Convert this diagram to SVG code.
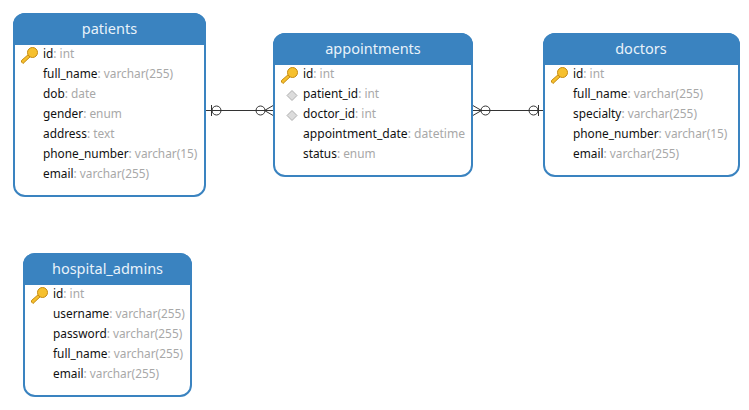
<svg xmlns="http://www.w3.org/2000/svg" width="749" height="410" viewBox="0 0 749 410">
<style>
text{font-family:"Noto Sans","Open Sans",sans-serif}
.t{font-size:14.5px;fill:#e8f2fa;text-anchor:middle}
.f{font-size:11.85px;fill:#111}
.w{font-size:12.1px}
.y{fill:#a8a8a8}
.b{fill:#fff;stroke:#3a83c0;stroke-width:2}
.h{fill:#3a83c0}
.c{fill:none;stroke:#333;stroke-width:1}
.k{fill:#f6c02e;stroke:#c58a10;stroke-width:1}
.d{fill:#dcdcdc;stroke:#b0b0b0;stroke-width:1}
</style>
<defs>
<g id="key"><path class="k" d="M0.500 -1.500 L-7.500 5.500 L-7.500 7 L-6 8.500 L2.500 0.500 Z"/><circle cx="3.500" cy="-2.500" r="5" class="k"/></g>
<path id="dia" class="d" d="M0 -5 L5 0 L0 5 L-5 0 Z"/>
</defs>
<g id="connectors">
<g id="c1"><path class="c" d="M206 110.500H274M211.500 105V116M264.500 110.500L274 105M264.500 110.500L274 116"/><circle class="c" cx="216.500" cy="110.500" r="4.500"/><circle class="c" cx="260.500" cy="110.500" r="4.500"/></g>
<g id="c2"><path class="c" d="M472 110.500H544M538.500 105V116M481.500 110.500L472 105M481.500 110.500L472 116"/><circle class="c" cx="485.500" cy="110.500" r="4.500"/><circle class="c" cx="533.500" cy="110.500" r="4.500"/></g>
</g>
<g id="patients">
<rect class="b" x="14" y="14" width="191" height="182" rx="11"/>
<path class="h" d="M13 45V25A12 12 0 0 1 25 13H194A12 12 0 0 1 206 25V45Z"/>
<text class="t" x="109.500" y="34">patients</text>
<use href="#key" x="29" y="55"/>
<text class="f" x="43" y="58">id<tspan class="y">: int</tspan></text>
<text class="f" x="43" y="78">full_name<tspan class="y">: varchar(255)</tspan></text>
<text class="f" x="43" y="98">dob<tspan class="y">: date</tspan></text>
<text class="f" x="43" y="118">gender<tspan class="y">: enum</tspan></text>
<text class="f" x="43" y="138">address<tspan class="y">: text</tspan></text>
<text class="f" x="43" y="158">phone_number<tspan class="y">: varchar(15)</tspan></text>
<text class="f" x="43" y="178">email<tspan class="y">: varchar(255)</tspan></text>
</g>
<g id="appointments">
<rect class="b" x="274" y="34" width="198" height="142" rx="11"/>
<path class="h" d="M273 65V45A12 12 0 0 1 285 33H461A12 12 0 0 1 473 45V65Z"/>
<text class="t" x="373" y="54">appointments</text>
<use href="#key" x="289" y="75"/>
<use href="#dia" x="292" y="95.500"/>
<use href="#dia" x="292" y="115.500"/>
<text class="f" x="303" y="78">id<tspan class="y">: int</tspan></text>
<text class="f" x="303" y="98">patient_id<tspan class="y">: int</tspan></text>
<text class="f" x="303" y="118">doctor_id<tspan class="y">: int</tspan></text>
<text class="f w" x="303" y="138">appointment_date<tspan class="y">: datetime</tspan></text>
<text class="f" x="303" y="158">status<tspan class="y">: enum</tspan></text>
</g>
<g id="doctors">
<rect class="b" x="544" y="34" width="195" height="142" rx="11"/>
<path class="h" d="M543 65V45A12 12 0 0 1 555 33H728A12 12 0 0 1 740 45V65Z"/>
<text class="t" x="641" y="54">doctors</text>
<use href="#key" x="559" y="75"/>
<text class="f" x="573" y="78">id<tspan class="y">: int</tspan></text>
<text class="f" x="573" y="98">full_name<tspan class="y">: varchar(255)</tspan></text>
<text class="f" x="573" y="118">specialty<tspan class="y">: varchar(255)</tspan></text>
<text class="f" x="573" y="138">phone_number<tspan class="y">: varchar(15)</tspan></text>
<text class="f" x="573" y="158">email<tspan class="y">: varchar(255)</tspan></text>
</g>
<g id="hospital_admins">
<rect class="b" x="24" y="254" width="167" height="142" rx="11"/>
<path class="h" d="M23 285V265A12 12 0 0 1 35 253H180A12 12 0 0 1 192 265V285Z"/>
<text class="t" x="107.500" y="274">hospital_admins</text>
<use href="#key" x="39" y="295"/>
<text class="f" x="53" y="298">id<tspan class="y">: int</tspan></text>
<text class="f" x="53" y="318">username<tspan class="y">: varchar(255)</tspan></text>
<text class="f" x="53" y="338">password<tspan class="y">: varchar(255)</tspan></text>
<text class="f" x="53" y="358">full_name<tspan class="y">: varchar(255)</tspan></text>
<text class="f" x="53" y="378">email<tspan class="y">: varchar(255)</tspan></text>
</g>
</svg>
